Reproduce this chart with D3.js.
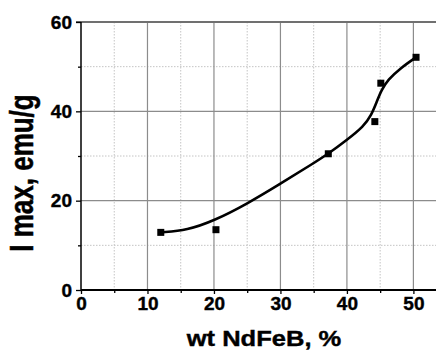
<!DOCTYPE html>
<html>
<head>
<meta charset="utf-8">
<script src="https://cdn.jsdelivr.net/npm/d3@7"></script>
<style>
  body { margin: 0; background: #fff; }
</style>
</head>
<body>
<div id="chart"></div>
<script>
// measured points
const wtPct = [12.0, 20.3, 37.2, 44.2, 45.1, 50.4];
const iMax = [12.9, 13.5, 30.5, 37.7, 46.3, 52.1];

// smooth fit line
const fitX = [12, 16, 20, 25, 30, 35, 37.2, 40, 42.5, 43.7, 44.5, 45.2, 46.2, 48, 50.4];
const fitY = [12.9, 13.4, 15.5, 19.3, 23.8, 28.4, 30.5, 33.6, 36.6, 39.2, 42.2, 44.8, 47.1, 49.6, 52.1];

const xMajor = [0, 10, 20, 30, 40, 50];
const xMinor = [5, 15, 25, 35, 45];
const yMajor = [0, 20, 40, 60];
const yMinor = [10, 30, 50];

const FONT = "'Liberation Sans', Arial, Helvetica, sans-serif";

const margin = {top: 22, right: 0, bottom: 62, left: 81};
const W = 436, H = 352;
const width = W - margin.left - margin.right;
const height = H - margin.top - margin.bottom;

const svg = d3.select("#chart").append("svg")
    .attr("width", W)
    .attr("height", H);

const g = svg.append("g")
    .attr("transform", "translate(" + margin.left + "," + margin.top + ")");

const x = d3.scaleLinear().domain([0, 53.4]).range([0, width]);
const y = d3.scaleLinear().domain([0, 60]).range([height, 0]);

// minor grid (dotted)
g.selectAll(".vminor").data(xMinor).enter().append("line")
    .attr("x1", d => x(d)).attr("x2", d => x(d))
    .attr("y1", 0).attr("y2", height)
    .attr("stroke", "#c4c4c4").attr("stroke-width", 1)
    .attr("stroke-dasharray", "1.5,1.5");
g.selectAll(".hminor").data(yMinor).enter().append("line")
    .attr("x1", 0).attr("x2", width)
    .attr("y1", d => y(d)).attr("y2", d => y(d))
    .attr("stroke", "#c4c4c4").attr("stroke-width", 1)
    .attr("stroke-dasharray", "1.5,1.5");

// major grid
g.selectAll(".vmajor").data(xMajor.slice(1)).enter().append("line")
    .attr("x1", d => x(d)).attr("x2", d => x(d))
    .attr("y1", 0).attr("y2", height)
    .attr("stroke", "#8c8c8c").attr("stroke-width", 1.2);
g.selectAll(".hmajor").data([20, 40]).enter().append("line")
    .attr("x1", 0).attr("x2", width)
    .attr("y1", d => y(d)).attr("y2", d => y(d))
    .attr("stroke", "#8c8c8c").attr("stroke-width", 1.2);

// top border
g.append("line")
    .attr("x1", -5).attr("x2", width)
    .attr("y1", y(60)).attr("y2", y(60))
    .attr("stroke", "#707070").attr("stroke-width", 2);

// axes
const yAxis = g.append("g")
    .call(d3.axisLeft(y).tickValues(yMajor).tickSize(5).tickPadding(4));
g.append("g")
    .call(d3.axisLeft(y).tickValues(yMinor).tickSize(3).tickFormat(""))
    .select(".domain").remove();
const xAxis = g.append("g")
    .attr("transform", "translate(0," + height + ")")
    .call(d3.axisBottom(x).tickValues(xMajor).tickSize(4).tickPadding(3));
g.append("g")
    .attr("transform", "translate(0," + height + ")")
    .call(d3.axisBottom(x).tickValues(xMinor).tickSize(3).tickFormat(""))
    .select(".domain").remove();

g.selectAll(".domain").attr("stroke", "#000");
yAxis.select(".domain").attr("stroke-width", 1.5).attr("d", "M0," + height + "V0");
xAxis.select(".domain").attr("stroke-width", 2).attr("d", "M0,0H" + width);
g.selectAll(".tick line").attr("stroke", "#000").attr("stroke-width", 1.3);
g.selectAll(".tick text")
    .style("font-family", FONT)
    .style("font-weight", "700")
    .style("font-size", "19px")
    .attr("fill", "#000")
    .attr("stroke", "#000").attr("stroke-width", 0.4);

// fit curve
const line = d3.line()
    .x((d, i) => x(fitX[i]))
    .y(d => y(d))
    .curve(d3.curveBasis);
g.append("path")
    .datum(fitY)
    .attr("d", line)
    .attr("fill", "none")
    .attr("stroke", "#000")
    .attr("stroke-width", 2.6);

// markers
g.selectAll(".pt").data(iMax).enter().append("rect")
    .attr("x", (d, i) => x(wtPct[i]) - 3.5)
    .attr("y", d => y(d) - 3.5)
    .attr("width", 7).attr("height", 7)
    .attr("fill", "#000");

// titles
svg.append("text")
    .attr("transform", "translate(264,346) scale(1.16,1)")
    .attr("text-anchor", "middle")
    .style("font-family", FONT)
    .style("font-weight", "700")
    .style("font-size", "22px")
    .attr("stroke", "#000").attr("stroke-width", 0.4)
    .text("wt NdFeB, %");

svg.append("text")
    .attr("transform", "translate(33,173) scale(1.3,1) rotate(-90)")
    .attr("text-anchor", "middle")
    .style("font-family", FONT)
    .style("font-weight", "700")
    .style("font-size", "26px")
    .attr("stroke", "#000").attr("stroke-width", 0.4)
    .text("I max, emu/g");
</script>
</body>
</html>
